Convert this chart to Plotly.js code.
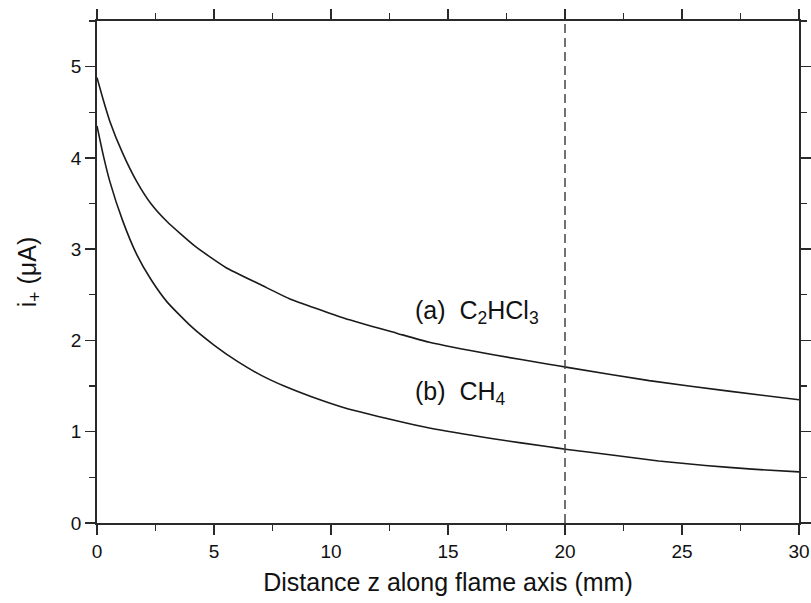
<!DOCTYPE html>
<html>
<head>
<meta charset="utf-8">
<script src="https://cdn.plot.ly/plotly-3.0.1.min.js"></script>
<style>html,body{margin:0;padding:0;background:#fff;}#chart{width:811px;height:603px;}</style>
</head>
<body>
<div id="chart"></div>
<script>
// Distance along flame axis (mm) and ion current (µA)
const zA = [0, 0.25, 0.55, 1.1, 1.7, 2.3, 3.0, 4.2, 5.5, 7, 8.2, 10.6, 12.8, 14.2, 17, 19.3, 20.1, 23.6, 27, 30];
const iA = [4.88, 4.65, 4.40, 4.05, 3.74, 3.50, 3.30, 3.03, 2.80, 2.61, 2.46, 2.24, 2.08, 1.98, 1.84, 1.74, 1.705, 1.56, 1.445, 1.35];
const zB = [0, 0.25, 0.55, 1.1, 1.7, 2.3, 3.0, 4, 5, 6, 7, 8, 9.2, 10.6, 12.8, 14.2, 17, 19.3, 20.1, 22, 24, 26, 28, 30];
const iB = [4.35, 4.05, 3.74, 3.31, 2.94, 2.67, 2.42, 2.16, 1.95, 1.77, 1.62, 1.50, 1.38, 1.26, 1.12, 1.04, 0.92, 0.835, 0.805, 0.745, 0.68, 0.63, 0.59, 0.56];
const labelA = "(a)  C<sub>2</sub>HCl<sub>3</sub>";
const labelB = "(b)  CH<sub>4</sub>";
const markerZ = 20;
const xTicks = [0, 5, 10, 15, 20, 25, 30];
const yTicks = [0, 1, 2, 3, 4, 5];

const FONT = "Liberation Sans, Arial, sans-serif";
const lineStyle = {color: "#1a1a1a", width: 1.6, shape: "spline", smoothing: 0.5};

const traces = [
  {x: zA, y: iA, mode: "lines", line: lineStyle, name: "C2HCl3", showlegend: false},
  {x: zB, y: iB, mode: "lines", line: lineStyle, name: "CH4", showlegend: false}
];

const axisCommon = {
  showgrid: false, zeroline: false, showline: true, linecolor: "#2a2a2a", linewidth: 1.8,
  mirror: "allticks", ticks: "outside", ticklen: 10, tickwidth: 1.5, tickcolor: "#2a2a2a",
  tickfont: {family: FONT, size: 19, color: "#111"}
};

const layout = {
  width: 811, height: 603,
  margin: {l: 96.5, r: 11.5, t: 21, b: 80.3},
  paper_bgcolor: "#fff", plot_bgcolor: "#fff",
  font: {family: FONT, color: "#111"},
  xaxis: Object.assign({}, axisCommon, {
    range: [0, 30], tickvals: xTicks, ticktext: xTicks.map(String),
    minor: {dtick: 2.5, tick0: 0, ticks: "outside", ticklen: 6, tickwidth: 1.3, tickcolor: "#2a2a2a"},
    title: {text: "Distance z along flame axis (mm)", font: {family: FONT, size: 25, color: "#111"}, standoff: 13}
  }),
  yaxis: Object.assign({}, axisCommon, {
    range: [0, 5.5], tickvals: yTicks, ticktext: yTicks.map(String),
    minor: {dtick: 0.5, tick0: 0, ticks: "outside", ticklen: 6, tickwidth: 1.3, tickcolor: "#2a2a2a"},
    title: {text: "i<sub>+</sub> (μA)", font: {family: FONT, size: 25, color: "#111"}, standoff: 27}
  }),
  shapes: [{
    type: "line", xref: "x", yref: "y", x0: markerZ, x1: markerZ, y0: 0, y1: 5.5,
    line: {color: "#444", width: 1.5, dash: "9px,5px"}
  }],
  annotations: [
    {x: 13.5, y: 2.31, xref: "x", yref: "y", text: labelA, showarrow: false, xanchor: "left", yanchor: "middle",
     font: {family: FONT, size: 25, color: "#111"}},
    {x: 13.5, y: 1.42, xref: "x", yref: "y", text: labelB, showarrow: false, xanchor: "left", yanchor: "middle",
     font: {family: FONT, size: 25, color: "#111"}}
  ]
};

Plotly.newPlot("chart", traces, layout, {staticPlot: true, displayModeBar: false});
</script>
</body>
</html>
